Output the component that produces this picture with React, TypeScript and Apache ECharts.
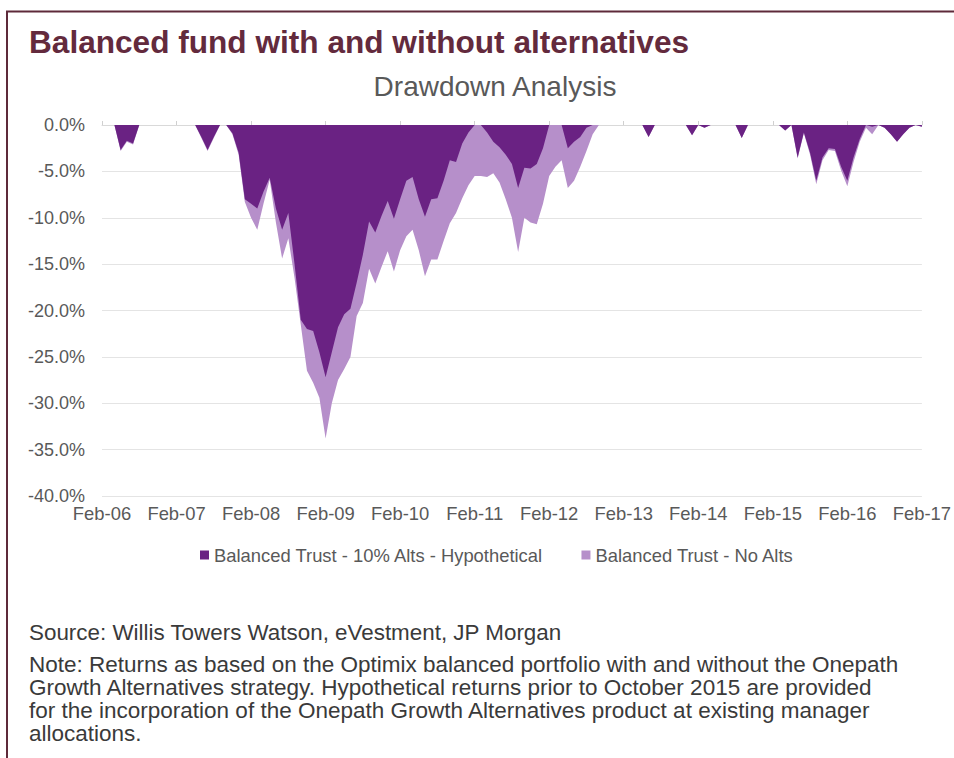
import React, { useEffect, useRef } from "react";
import * as echarts from "echarts";

// ---- Data (drawdown %, monthly Feb-06 .. Feb-17) ----
const seriesNames = [
  "Balanced Trust - 10% Alts - Hypothetical",
  "Balanced Trust - No Alts",
];

const withAlts = [
  0, 0, 0, -2.7, -1.7, -2.0, 0, 0, 0, 0, 0, 0,
  0, 0, 0, 0, -1.3, -2.7, -1.3, 0, 0, -0.9, -3.0, -8.0,
  -8.5, -9.0, -7.2, -5.7, -9.0, -11.3, -9.5, -15.0, -21.0, -22.0, -22.2, -24.5,
  -27.2, -24.5, -21.8, -20.4, -19.8, -17.0, -14.0, -10.4, -11.6, -9.8, -8.2, -10.1,
  -8.0, -6.0, -5.6, -8.0, -9.9, -8.0, -7.9, -6.0, -3.8, -4.0, -2.0, -0.8,
  0, 0, -0.8, -1.8, -2.4, -3.2, -4.2, -6.8, -4.6, -4.7, -4.2, -2.5,
  0, 0, 0, -2.5, -1.8, -1.3, -0.3, 0, 0, 0, 0, 0,
  0, 0, 0, 0, -1.3, 0, 0, 0, 0, 0, 0, -1.1,
  0, -0.3, 0, 0, 0, 0, 0, -1.4, 0, 0, 0, 0,
  0, 0, -0.6, 0, -3.5, -0.8, -3.0, -6.0, -3.5, -2.5, -2.6, -4.5,
  -6.0, -3.5, -1.5, 0, -0.2, 0, -0.3, -1.0, -1.8, -1.0, -0.3, 0,
  -0.2,
];

const noAlts = [
  0, 0, 0, -2.8, -1.8, -2.1, 0, 0, 0, 0, 0, 0,
  0, 0, 0, 0, -1.4, -2.8, -1.4, 0, 0, -1.0, -3.2, -8.3,
  -10.0, -11.3, -8.5, -5.9, -10.5, -14.4, -12.2, -16.5, -21.5, -26.5, -27.8, -29.4,
  -33.8, -30.0, -27.5, -26.3, -25.0, -20.6, -19.2, -15.5, -17.1, -15.3, -13.6, -15.8,
  -13.5, -12.0, -11.3, -13.5, -16.3, -14.5, -14.5, -12.5, -10.6, -9.5, -7.9, -6.5,
  -5.5, -5.5, -5.6, -5.2, -6.2, -8.0, -10.0, -13.7, -10.0, -10.5, -10.7, -8.5,
  -5.5, -4.5, -3.8, -6.8, -6.0, -4.5, -2.8, -1.0, 0, 0, 0, 0,
  0, 0, 0, 0, -1.3, 0, 0, 0, 0, 0, 0, -1.1,
  0, -0.3, 0, 0, 0, 0, 0, -1.4, 0, 0, 0, 0,
  0, 0, -0.6, 0, -3.6, -0.9, -3.2, -6.4, -3.8, -2.7, -2.8, -4.9,
  -6.6, -4.0, -1.8, -0.3, -1.0, 0, -0.3, -1.0, -1.8, -1.0, -0.3, 0,
  -0.2,
];

const monthNames = ["Jan", "Feb", "Mar", "Apr", "May", "Jun", "Jul", "Aug", "Sep", "Oct", "Nov", "Dec"];
const startYear = 6;
const startMonth = 1; // Feb
const categories = withAlts.map((_, i) => {
  const m = (startMonth + i) % 12;
  const y = startYear + Math.floor((startMonth + i) / 12);
  return `${monthNames[m]}-${String(y).padStart(2, "0")}`;
});

const yMin = -40;
const yMax = 0;
const yStep = 5;

const mainTitle = "Balanced fund with and without alternatives";
const chartTitle = "Drawdown Analysis";
const sourceText = "Source: Willis Towers Watson, eVestment, JP Morgan";
const noteLines = [
  "Note: Returns as based on the Optimix balanced portfolio with and without the Onepath",
  "Growth Alternatives strategy. Hypothetical returns prior to October 2015 are provided",
  "for the incorporation of the Onepath Growth Alternatives product at existing manager",
  "allocations.",
];

const DARK = "#6a2283";
const LIGHT = "#b68fca";
const FRAME = "#5e2a3a";
const FONT = "'Liberation Sans', Arial, Helvetica, sans-serif";

export default function App() {
  const ref = useRef<HTMLDivElement>(null);

  useEffect(() => {
    document.body.style.margin = "0";
    if (!ref.current) return;
    const chart = echarts.init(ref.current, null, { renderer: "svg" });

    const txt = (t: string, x: number, y: number, extra: any) => ({
      type: "text",
      x,
      y,
      style: {
        text: t,
        fontFamily: FONT,
        align: "left",
        verticalAlign: "middle",
        textAlign: "left",
        textVerticalAlign: "middle",
        ...extra,
      },
    });

    const graphics: any[] = [
      {
        type: "line",
        shape: { x1: 6, y1: 11.5, x2: 954, y2: 11.5 },
        style: { stroke: FRAME, lineWidth: 2 },
      },
      {
        type: "line",
        shape: { x1: 7, y1: 11, x2: 7, y2: 758 },
        style: { stroke: FRAME, lineWidth: 2 },
      },
      txt(mainTitle, 29, 42, { fill: "#632a3d", fontSize: 31.6, fontWeight: "bold" }),
      txt(chartTitle, 495, 86, {
        fill: "#595959",
        fontSize: 28,
        align: "center",
        textAlign: "center",
      }),
      txt(sourceText, 29, 632, { fill: "#3a3a3a", fontSize: 22.4 }),
      ...noteLines.map((t, i) => txt(t, 29, 664 + i * 23.2, { fill: "#3a3a3a", fontSize: 22.5 })),
    ];

    chart.setOption({
      animation: false,
      textStyle: { fontFamily: FONT },
      grid: { left: 102, right: 32, top: 125, bottom: 262, containLabel: false },
      legend: {
        data: seriesNames,
        left: 200,
        top: 546,
        itemWidth: 9,
        itemHeight: 9,
        itemGap: 38,
        icon: "rect",
        padding: 0,
        textStyle: { color: "#595959", fontSize: 18.4, fontFamily: FONT },
      },
      xAxis: [
        {
          type: "category",
          data: categories,
          boundaryGap: false,
          position: "bottom",
          axisLine: { show: false },
          axisTick: { show: false },
          splitLine: { show: false },
          axisLabel: {
            interval: 11,
            color: "#595959",
            fontSize: 18.4,
            fontFamily: FONT,
            margin: 8,
          },
        },
        {
          type: "category",
          data: categories,
          boundaryGap: false,
          position: "top",
          axisLine: { show: true, lineStyle: { color: "#d9d9d9", width: 1 } },
          axisTick: { show: true, interval: 11, length: 4, lineStyle: { color: "#d0d0d0" } },
          axisLabel: { show: false },
          splitLine: { show: false },
        },
      ],
      yAxis: {
        type: "value",
        min: yMin,
        max: yMax,
        interval: yStep,
        axisLine: { show: false },
        axisTick: { show: false },
        axisLabel: {
          color: "#595959",
          fontSize: 18,
          fontFamily: FONT,
          margin: 17,
          formatter: (v: number) => `${v.toFixed(1)}%`,
        },
        splitLine: { lineStyle: { color: "#e4e4e4", width: 1 } },
      },
      series: [
        {
          name: seriesNames[0],
          type: "line",
          data: withAlts,
          xAxisIndex: 0,
          showSymbol: false,
          symbol: "none",
          z: 3,
          itemStyle: { color: DARK },
          lineStyle: { width: 0, color: DARK },
          areaStyle: { color: DARK, opacity: 1 },
        },
        {
          name: seriesNames[1],
          type: "line",
          data: noAlts,
          xAxisIndex: 0,
          showSymbol: false,
          symbol: "none",
          z: 2,
          itemStyle: { color: LIGHT },
          lineStyle: { width: 0, color: LIGHT },
          areaStyle: { color: LIGHT, opacity: 1 },
        },
      ],
      graphic: graphics,
    });

    return () => chart.dispose();
  }, []);

  return <div ref={ref} style={{ width: 954, height: 758 }} />;
}
